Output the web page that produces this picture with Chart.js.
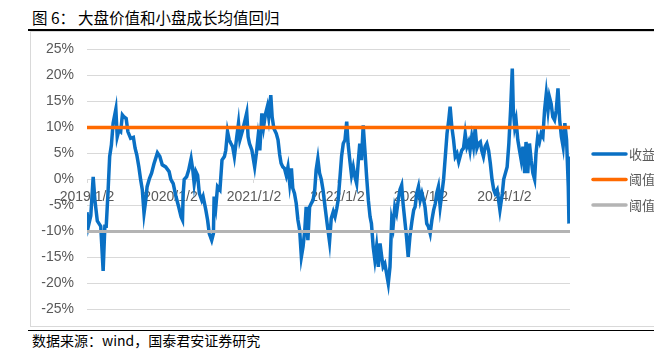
<!DOCTYPE html>
<html>
<head>
<meta charset="utf-8">
<script src="https://cdn.jsdelivr.net/npm/chart.js@4/dist/chart.umd.min.js"></script>
<style>
  html, body { margin: 0; padding: 0; background: #fff; overflow: hidden; }
  body { width: 654px; height: 351px; position: relative; }
  .title { position: absolute; left: 32px; top: 9px; font: 15.5px/16px "Noto Sans CJK SC", sans-serif; color: #000; white-space: nowrap; }
  .title .num { display: inline-block; width: 46px; }
  .rule { position: absolute; left: 28px; width: 626px; height: 1.5px; background: #000; }
  .note { position: absolute; left: 32px; top: 333px; font: 14px/15px "Noto Sans CJK SC", sans-serif; color: #000; white-space: nowrap; }
  .box { position: absolute; left: 30px; top: 31px; width: 680px; height: 294px; border: 1px solid #d9d9d9; border-right: none; }
  .plot { position: absolute; left: 31px; top: 27.6px; width: 679px; height: 302.8px; }
</style>
</head>
<body>
<div class="title"><span class="num">图 6：</span>大盘价值和小盘成长均值回归</div>
<div class="rule" style="top:29px"></div>
<div class="box"></div>
<div class="plot"><canvas id="chart"></canvas></div>
<div class="rule" style="top:329.5px"></div>
<div class="note">数据来源：wind，国泰君安证券研究</div>
<script>
// trading-day index since 2019/1/2, and the return spread (%)
let days = [0, 4, 11, 18, 23, 30, 35, 40, 47, 52, 56, 61, 66, 71, 76, 84, 88, 93, 98, 103,
    108, 114, 119, 127, 135, 140, 145, 151, 156, 161, 166, 171, 175, 182, 188, 195, 205, 212, 219, 229,
    239, 244, 251, 259, 267, 274, 278, 280, 283, 290, 296, 303, 308, 312, 317, 322, 327, 334, 338, 346,
    351, 356, 363, 368, 370, 375, 380, 387, 393, 400, 404, 409, 414, 419, 424, 429, 436, 441, 445, 453,
    459, 465, 469, 473, 480, 488, 493, 498, 503, 509, 514, 519, 525, 529, 535, 539, 544, 551, 556, 561,
    565, 570, 575, 580, 585, 590, 595, 599, 604, 609, 614, 619, 624, 629, 634, 638, 643, 648, 653, 658,
    663, 667, 672, 677, 682, 687, 693, 699, 706, 711, 717, 722, 727, 731, 736, 741, 746, 751, 756, 760,
    765, 770, 775, 780, 785, 790, 794, 799, 804, 809, 814, 819, 824, 828, 833, 838, 843, 848, 853, 858,
    862, 867, 872, 877, 882, 887, 891, 896, 901, 906, 911, 916, 920, 925, 930, 935, 940, 946, 951, 955,
    960, 965, 970, 975, 980, 984, 989, 994, 999, 1004, 1009, 1014, 1018, 1023, 1028, 1033, 1038, 1043, 1048, 1053,
    1057, 1062, 1067, 1072, 1077, 1082, 1086, 1091, 1096, 1101, 1106, 1111, 1115, 1120, 1125, 1130, 1135, 1140, 1145, 1149,
    1154, 1159, 1164, 1169, 1174, 1179, 1184, 1188, 1194, 1202, 1209, 1213, 1218, 1223, 1228, 1233, 1238, 1241, 1245, 1249,
    1254, 1259, 1264, 1269, 1274, 1278, 1283, 1288, 1293, 1298, 1303, 1307, 1312, 1317, 1322, 1327, 1332, 1337, 1342, 1346,
    1351, 1356, 1361, 1366, 1371, 1376, 1381, 1386, 1391, 1396, 1401, 1403, 1406];
let spread = [-6.3, -9, -7, 0.5, -4, -8, -8.5, -9, -17.6, -9, -9, -2.7, 4.4, 6.6, 10.8, 13.5, 8.2, 9.5, 9.2, 12.4,
    12, 11.7, 9.2, 7.9, 8.1, 6, 4.7, 2.4, 0, -2, -6.5, -4, -1.4, 0.2, 1.2, 3, 5.1, 4.4, 2.8, 2.4,
    1.5, 0, -0.8, -3.3, -5.3, -7.2, -7.8, -2.7, 0, 0.5, 1.8, 4, 1.8, -0.8, 1.5, 0.8, -2.7, -4, -3.3, -5.9,
    -7.8, -10.4, -11.7, -10.4, -3.3, -5.3, -1.4, -2, 3.7, 4.4, 5.6, 9.2, 7.6, 6.9, 6.3, 4.4, 8.2, 10.8, 7.6, 9.5,
    11.1, 12.8, 8.2, 6.9, 5.6, 2.4, 5, 8.2, 5.6, 12.7, 10.1, 12.4, 14, 12, 16.2, 12, 9.8, 8.8, 7.6, 4.7,
    3.1, 2.4, 2.1, 0.8, 2.4, -0.8, 2.1, -1.7, -2.7, -4.6, -7.8, -9.7, -14.9, -12.9, -9.7, -5.3, -11.7, -5.3, -4.6, -4,
    -2, 1.8, 4, 1.2, 0, -2, -5.3, -8.5, -12, -7.5, -6.2, -7.2, -5.6, -4, 0, 4.4, 6.9, 7.6, 11.1, 6.9,
    3.7, 0.8, 2.4, 0.5, -0.8, 3.7, 6.9, 3.7, 10.4, 5.6, 0.5, -4, -7.2, -8.5, -12.9, -15.5, -12.9, -16.8, -12.3, -14.9,
    -16.8, -16.2, -18.1, -20, -16.8, -7.8, -9.1, -5.3, -6.5, -4, -2, -1.1, -4.6, -7.8, -11, -14.9, -11, -8, -5.9, -5.3,
    -2.7, -1.4, -4, -2.7, -4, -5.3, -8.5, -9.1, -10.4, -7.8, -5.9, -4.6, -2.7, -1.4, -5.3, -2.7, 0, 4.4, 8.8, 11.4,
    14, 10.1, 7.6, 4.4, 5, 3.4, 4.4, 5.6, 6, 8.8, 6.3, 7.2, 5.6, 8.2, 6.3, 9.8, 6, 6.9, 7.2, 5.6,
    4.4, 6.3, 6.9, 5.6, 3.1, 0, -2, -2.7, -2, -5.9, -2.7, 0, 1.2, 2.4, 6.9, 13.3, 21.3, 13.3, 10.1, 11.4,
    7.6, 5.6, 3.7, 6.3, 1.2, 7.2, 1.2, 6.9, 3.7, 1.2, 0, 5, 8.2, 7.2, 8.8, 8.2, 13.3, 16.5, 13.3, 15.9,
    14.6, 12, 11.4, 13.3, 17.5, 11.4, 8.2, 6.3, 10.8, 7.6, -1.4, -8.5, 4.4];
let upper = 10;
let lower = -10;
let seriesNames = ["收益差", "阈值上限", "阈值下限"];
let tickDays = [0, 243, 486, 729, 972, 1215];
let tickLabels = ["2019/1/2", "2020/1/2", "2021/1/2", "2022/1/2", "2023/1/2", "2024/1/2"];

if (days.length !== spread.length) throw new Error("length mismatch " + days.length + " " + spread.length);

let lastDay = days[days.length - 1];
let grey = "#595959";
Chart.defaults.font.family = "'Liberation Sans', Arial, 'Noto Sans CJK SC', sans-serif";
Chart.defaults.font.size = 14;
Chart.defaults.color = grey;

// legend drawn beside the plot like the Excel one
const sideLegend = {
    id: "sideLegend",
    afterDraw(chart) {
        const ctx = chart.ctx;
        const area = chart.chartArea;
        const mid = (area.top + area.bottom) / 2;
        chart.data.datasets.forEach(function (ds, i) {
            const y = mid + (i - 1) * 25.5;
            const x0 = area.right + 23;
            ctx.save();
            ctx.strokeStyle = ds.borderColor;
            ctx.lineWidth = 3.5;
            ctx.lineCap = "round";
            ctx.beginPath();
            ctx.moveTo(x0, y);
            ctx.lineTo(x0 + 33, y);
            ctx.stroke();
            ctx.fillStyle = grey;
            ctx.font = "13px 'Noto Sans CJK SC', sans-serif";
            ctx.textBaseline = "middle";
            ctx.fillText(ds.label, x0 + 36, y);
            ctx.restore();
        });
    }
};

new Chart(document.getElementById("chart"), {
    type: "line",
    data: {
        datasets: [{
            label: seriesNames[0],
            data: days.map((d, i) => ({ x: d, y: spread[i] })),
            borderColor: "#0a70c4",
            borderWidth: 3.5,
            pointRadius: 0,
            order: 2
        }, {
            label: seriesNames[1],
            data: [{ x: 0, y: upper }, { x: lastDay, y: upper }],
            borderColor: "#ff6a00",
            borderWidth: 3.5,
            pointRadius: 0,
            order: 1
        }, {
            label: seriesNames[2],
            data: [{ x: 0, y: lower }, { x: lastDay, y: lower }],
            borderColor: "#b4b4b4",
            borderWidth: 3,
            pointRadius: 0,
            order: 1
        }]
    },
    options: {
        responsive: true,
        maintainAspectRatio: false,
        animation: false,
        layout: { padding: { top: 0, bottom: 0, left: 0, right: 140 } },
        plugins: { legend: { display: false }, tooltip: { enabled: false } },
        scales: {
            x: {
                type: "linear",
                position: { y: 0 },
                min: 0,
                max: lastDay,
                afterBuildTicks: function (axis) {
                    axis.ticks = tickDays.map(v => ({ value: v }));
                },
                ticks: {
                    autoSkip: false,
                    maxRotation: 0,
                    padding: 5,
                    callback: function (v) {
                        return tickLabels[tickDays.indexOf(v)];
                    }
                },
                grid: { drawOnChartArea: false, drawTicks: true, tickLength: 4, color: "#d9d9d9" },
                border: { display: false }
            },
            y: {
                min: -25,
                max: 25,
                afterFit: function (axis) { axis.width = 56; },
                ticks: {
                    stepSize: 5,
                    padding: 13,
                    callback: v => v + "%"
                },
                grid: { color: "#d9d9d9", drawTicks: false },
                border: { display: false }
            }
        }
    },
    plugins: [sideLegend]
});
</script>
</body>
</html>
